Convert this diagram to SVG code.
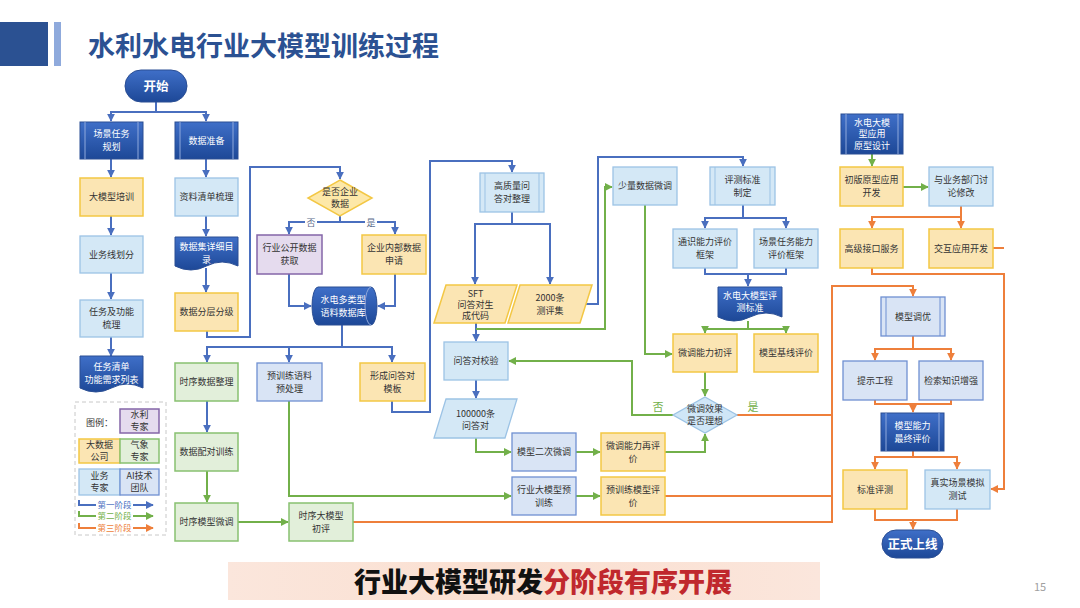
<svg xmlns="http://www.w3.org/2000/svg" width="1080" height="608" viewBox="0 0 1080 608">
<defs>
<linearGradient id="gdb" x1="0" y1="0" x2="0" y2="1"><stop offset="0" stop-color="#3f6fc8"/><stop offset="1" stop-color="#1d4897"/></linearGradient>
<linearGradient id="gban" x1="0" y1="0" x2="1" y2="0"><stop offset="0" stop-color="#fbe6dc"/><stop offset="0.5" stop-color="#fadfd0"/><stop offset="1" stop-color="#fbe6dc"/></linearGradient>
<marker id="mb" viewBox="0 0 10 10" refX="9" refY="5" markerWidth="8" markerHeight="8" markerUnits="userSpaceOnUse" orient="auto"><path d="M0,0 L10,5 L0,10 z" fill="#4a6fbf"/></marker>
<marker id="mg" viewBox="0 0 10 10" refX="9" refY="5" markerWidth="8" markerHeight="8" markerUnits="userSpaceOnUse" orient="auto"><path d="M0,0 L10,5 L0,10 z" fill="#72b04a"/></marker>
<marker id="mo" viewBox="0 0 10 10" refX="9" refY="5" markerWidth="8" markerHeight="8" markerUnits="userSpaceOnUse" orient="auto"><path d="M0,0 L10,5 L0,10 z" fill="#ee7f3b"/></marker>
<style>
text{font-family:"Noto Sans CJK SC","Liberation Sans",sans-serif;}
.t{font-size:9px;fill:#333;text-anchor:middle;}
.tw{font-size:9px;fill:#fff;text-anchor:middle;}
.db{fill:url(#gdb);stroke:#2a4e94;stroke-width:1;}
.dbl{stroke:#8fa9dc;stroke-width:1;}
.lb{fill:#d4e8f6;stroke:#9cc3e5;stroke-width:1.3;}
.lbl{stroke:#9cc3e5;stroke-width:1;}
.ab{fill:#d9e4f5;stroke:#6f90d2;stroke-width:1.3;}
.ye{fill:#fbe5b3;stroke:#f3c744;stroke-width:1.5;}
.gr{fill:#e2efda;stroke:#88c170;stroke-width:1.5;}
.pu{fill:#e5dbee;stroke:#8466a8;stroke-width:1.5;}
.cb{fill:none;stroke:#4a6fbf;stroke-width:2;marker-end:url(#mb);}
.cg{fill:none;stroke:#72b04a;stroke-width:2;marker-end:url(#mg);}
.co{fill:none;stroke:#ee7f3b;stroke-width:2;marker-end:url(#mo);}
.nb{fill:none;stroke:#4a6fbf;stroke-width:2;}
.ng{fill:none;stroke:#72b04a;stroke-width:2;}
.no{fill:none;stroke:#ee7f3b;stroke-width:2;}
</style>
</defs>
<rect width="1080" height="608" fill="#fff"/>
<!-- title -->
<g id="title">
<rect x="0" y="22" width="48" height="44" fill="#2b5192"/>
<rect x="54" y="22" width="7" height="44" fill="#8faadc"/>
<text x="88" y="56" style="font-size:27px;font-weight:700;fill:#2b5192">水利水电行业大模型训练过程</text>
</g>
<!-- connectors -->
<g id="connectors">
<!-- stage 1 blue -->
<path class="cb" d="M156,102 V112 H111 V121"/>
<path class="cb" d="M156,112 H206 V121"/>
<path class="cb" d="M111,159 V177"/>
<path class="cb" d="M111,216 V235"/>
<path class="cb" d="M111,273 V299"/>
<path class="cb" d="M111,337 V356"/>
<path class="cb" d="M206,159 V177"/>
<path class="cb" d="M206,216 V236"/>
<path class="cb" d="M206,268 V292"/>
<path class="cb" d="M207,331 V337 H250 V167 H340 V179"/>
<path class="cb" d="M340,216 V222 H289 V234"/>
<path class="cb" d="M340,222 H395 V234"/>
<path class="cb" d="M289,274 V306 H311"/>
<path class="cb" d="M395,274 V306 H378"/>
<path class="cb" d="M342,325 V347 H207 V362"/>
<path class="cb" d="M342,347 H392 V362"/>
<path class="cb" d="M289,347 V362"/>
<path class="cb" d="M207,401 V432"/>
<path class="cb" d="M392,401 V412 H430 V161 H512 V172"/>
<path class="cb" d="M512,212 V224 H475 V284"/>
<path class="cb" d="M512,224 H550 V284"/>
<path class="cb" d="M586,304 H598 V157 H743 V166"/>
<path class="cb" d="M476,323 V341"/>
<path class="cb" d="M476,380 V398"/>
<path class="cb" d="M743,205 V218 H705 V228"/>
<path class="cb" d="M743,218 H786 V228"/>
<path class="nb" d="M705,268 V274 H786 V268"/>
<path class="cb" d="M748,274 V286"/>
<!-- stage 2 green -->
<path class="cg" d="M207,471 V502"/>
<path class="cg" d="M238,522 H288"/>
<path class="cg" d="M289,401 V496 H511"/>
<path class="cg" d="M476,329 H605 V187 H612"/>
<path class="cg" d="M476,438 V452 H511"/>
<path class="cg" d="M576,452 H600"/>
<path class="cg" d="M665,452 H705 V434"/>
<path class="cg" d="M576,496 H600"/>
<path class="cg" d="M645,205 V354 H672"/>
<path class="cg" d="M748,321 V329 H705 V333"/>
<path class="cg" d="M748,329 H786 V333"/>
<path class="cg" d="M705,372 V396"/>
<path class="cg" d="M673,415 H632 V361 H509"/>
<path class="cg" d="M872,154 V166"/>
<path class="cg" d="M903,187 H928"/>
<!-- stage 3 orange -->
<path class="no" d="M737,415 H832"/>
<path class="no" d="M665,496 H832"/>
<path class="co" d="M353,522 H832 V286 H913 V296"/>
<path class="co" d="M961,206 V217 H872 V228"/>
<path class="co" d="M961,217 V228"/>
<path class="co" d="M872,268 V274 H1004 V489 H991"/>
<path class="no" d="M993,248 H1004"/>
<path class="co" d="M913,336 V349 H875 V360"/>
<path class="co" d="M913,349 H951 V360"/>
<path class="no" d="M875,400 V404 H951 V400"/>
<path class="co" d="M913,404 V412"/>
<path class="co" d="M913,451 V457 H875 V469"/>
<path class="co" d="M913,457 H957 V469"/>
<path class="no" d="M875,509 V520 H957 V509"/>
<path class="co" d="M913,520 V529"/>
<!-- labels -->
<rect x="305" y="216" width="12" height="12" fill="#fff"/>
<text x="311" y="226" style="font-size:9px;fill:#5a6a8a;text-anchor:middle">否</text>
<rect x="365" y="216" width="12" height="12" fill="#fff"/>
<text x="371" y="226" style="font-size:9px;fill:#5a6a8a;text-anchor:middle">是</text>
<text x="658" y="411" style="font-size:11px;fill:#72b04a;text-anchor:middle">否</text>
<text x="753" y="411" style="font-size:11px;fill:#72b04a;text-anchor:middle">是</text>
</g>
<!-- nodes -->
<g id="n-start"><rect x="125" y="70" width="62" height="32" rx="16" class="db"/><text x="156" y="90.5" style="font-size:12.5px;font-weight:700;fill:#fff;text-anchor:middle">开始</text></g>
<g id="n-cjrw"><rect x="80" y="122" width="63" height="37" class="db"/><path class="dbl" d="M85,122 V159 M138,122 V159"/><text class="tw" x="111.5" y="137">场景任务</text><text class="tw" x="111.5" y="150">规划</text></g>
<g id="n-sjzb"><rect x="175" y="122" width="63" height="37" class="db"/><path class="dbl" d="M180,122 V159 M233,122 V159"/><text class="tw" x="206.5" y="143.7">数据准备</text></g>
<g id="n-dmxpx"><rect x="80" y="178" width="63" height="38" class="ye"/><text class="t" x="111.5" y="200.2">大模型培训</text></g>
<g id="n-zlqd"><rect x="175" y="178" width="63" height="38" class="lb"/><text class="t" x="206.5" y="200.2">资料清单梳理</text></g>
<g id="n-ywxhf"><rect x="80" y="236" width="63" height="37" class="lb"/><text class="t" x="111.5" y="257.7">业务线划分</text></g>
<g id="n-sjjxx"><path class="db" d="M175,237 H238 V266 Q222,258 206.5,266 T175,266 Z"/><text class="tw" x="206.5" y="250">数据集详细目</text><text class="tw" x="206.5" y="263">录</text></g>
<g id="n-rwgn"><rect x="80" y="300" width="63" height="37" class="lb"/><text class="t" x="111.5" y="315.2">任务及功能</text><text class="t" x="111.5" y="328.2">梳理</text></g>
<g id="n-sjfc"><rect x="175" y="293" width="63" height="38" class="ye"/><text class="t" x="206.5" y="315.2">数据分层分级</text></g>
<g id="n-rwqd"><path class="db" d="M80,356 H143 V388 Q127,380 111.5,388 T80,388 Z"/><text class="tw" x="111.5" y="370">任务清单</text><text class="tw" x="111.5" y="383">功能需求列表</text></g>
<g id="legend">
<rect x="75" y="402" width="91" height="133" fill="#fff" stroke="#c8c8c8" stroke-width="1" stroke-dasharray="4,3"/>
<text x="86" y="426" style="font-size:9px;fill:#333">图例：</text>
<rect x="120" y="409" width="39" height="24" class="pu"/><text class="t" x="139.5" y="418">水利</text><text class="t" x="139.5" y="430">专家</text>
<rect x="79" y="439" width="41" height="24" class="ye"/><text class="t" x="99.5" y="448">大数据</text><text class="t" x="99.5" y="460">公司</text>
<rect x="120" y="439" width="39" height="24" class="gr"/><text class="t" x="139.5" y="448">气象</text><text class="t" x="139.5" y="460">专家</text>
<rect x="79" y="469" width="41" height="26" class="lb"/><text class="t" x="99.5" y="479">业务</text><text class="t" x="99.5" y="491">专家</text>
<rect x="120" y="469" width="39" height="26" class="ab"/><text class="t" x="139.5" y="479">AI技术</text><text class="t" x="139.5" y="491">团队</text>
<path class="nb" d="M79,500 V505 H96"/><text x="114.5" y="508" style="font-size:8.5px;fill:#4a6fbf;text-anchor:middle">第一阶段</text><path class="cb" d="M133,505 H153"/>
<path class="ng" d="M79,511 V516 H96"/><text x="114.5" y="519" style="font-size:8.5px;fill:#72b04a;text-anchor:middle">第二阶段</text><path class="cg" d="M133,516 H153"/>
<path class="no" d="M79,523 V528 H96"/><text x="114.5" y="531" style="font-size:8.5px;fill:#ee7f3b;text-anchor:middle">第三阶段</text><path class="co" d="M133,528 H153"/>
</g>
<g id="n-sxsjzl"><rect x="175" y="363" width="63" height="38" class="gr"/><text class="t" x="206.5" y="385.2">时序数据整理</text></g>
<g id="n-sjpd"><rect x="175" y="433" width="63" height="38" class="gr"/><text class="t" x="206.5" y="455.2">数据配对训练</text></g>
<g id="n-sxmxwt"><rect x="175" y="503" width="63" height="38" class="gr"/><text class="t" x="206.5" y="525.2">时序模型微调</text></g>
<g id="n-sfqy"><path d="M340,180 L372,198 L340,216 L308,198 Z" fill="#fde8a8" stroke="#f3c744" stroke-width="1.5"/><text class="t" x="340" y="195">是否企业</text><text class="t" x="340" y="207">数据</text></g>
<g id="n-hygk"><rect x="257" y="235" width="65" height="39" class="pu"/><text class="t" x="289.5" y="251.2">行业公开数据</text><text class="t" x="289.5" y="264.2">获取</text></g>
<g id="n-qynb"><rect x="362" y="235" width="64" height="39" class="ye"/><text class="t" x="394" y="251.2">企业内部数据</text><text class="t" x="394" y="264.2">申请</text></g>
<g id="n-yljk"><path class="db" d="M318,287 H371 A6,19 0 0 1 371,325 H318 A6,19 0 0 1 318,287 Z"/><path d="M371,287 A6,19 0 0 0 371,325" fill="none" stroke="#8fa9dc" stroke-width="1"/><text class="tw" x="343" y="302.7">水电多类型</text><text class="tw" x="343" y="315.7">语料数据库</text></g>
<g id="n-yxlyl"><rect x="257" y="363" width="65" height="38" class="ab"/><text class="t" x="289.5" y="378.7">预训练语料</text><text class="t" x="289.5" y="391.7">预处理</text></g>
<g id="n-xcwd"><rect x="360" y="363" width="65" height="38" class="ye"/><text class="t" x="392.5" y="378.7">形成问答对</text><text class="t" x="392.5" y="391.7">模板</text></g>
<g id="n-sxdmx"><rect x="289" y="503" width="64" height="38" class="gr"/><text class="t" x="321" y="518.7">时序大模型</text><text class="t" x="321" y="531.7">初评</text></g>
<g id="n-gzl"><rect x="480" y="173" width="64" height="39" class="lb"/><path class="lbl" d="M485,173 V212 M539,173 V212"/><text class="t" x="512" y="189.2">高质量问</text><text class="t" x="512" y="202.2">答对整理</text></g>
<g id="n-sft"><path d="M446,285 H517 L505,323 H434 Z" class="ye"/><text class="t" x="475.5" y="296.5">SFT</text><text class="t" x="475.5" y="307.5">问答对生</text><text class="t" x="475.5" y="318.5">成代码</text></g>
<g id="n-2000"><path d="M520,285 H592 L580,323 H508 Z" class="ye"/><text class="t" x="550" y="301">2000条</text><text class="t" x="550" y="314">测评集</text></g>
<g id="n-wdjy"><rect x="444" y="342" width="64" height="38" class="lb"/><text class="t" x="476" y="364.2">问答对校验</text></g>
<g id="n-100000"><path d="M446,399 H517 L505,438 H434 Z" class="lb"/><text class="t" x="475.5" y="416.5">100000条</text><text class="t" x="475.5" y="429">问答对</text></g>
<g id="n-ecwt"><rect x="512" y="433" width="64" height="38" class="ab"/><text class="t" x="544" y="455.2">模型二次微调</text></g>
<g id="n-zpj"><rect x="601" y="433" width="64" height="38" class="ye"/><text class="t" x="633" y="448.7">微调能力再评</text><text class="t" x="633" y="461.7">价</text></g>
<g id="n-hyyxl"><rect x="512" y="477" width="64" height="38" class="ab"/><text class="t" x="544" y="492.7">行业大模型预</text><text class="t" x="544" y="505.7">训练</text></g>
<g id="n-yxlpj"><rect x="601" y="477" width="64" height="38" class="ye"/><text class="t" x="633" y="492.7">预训练模型评</text><text class="t" x="633" y="505.7">价</text></g>
<g id="n-slwt"><rect x="613" y="167" width="64" height="38" class="lb"/><text class="t" x="645" y="189.2">少量数据微调</text></g>
<g id="n-pcbz"><rect x="710" y="167" width="65" height="38" class="lb"/><path class="lbl" d="M715,167 V205 M770,167 V205"/><text class="t" x="742.5" y="182.7">评测标准</text><text class="t" x="742.5" y="195.7">制定</text></g>
<g id="n-tsnl"><rect x="673" y="229" width="64" height="39" class="lb"/><text class="t" x="705" y="245.2">通识能力评价</text><text class="t" x="705" y="258.2">框架</text></g>
<g id="n-cjrwnl"><rect x="754" y="229" width="64" height="39" class="lb"/><text class="t" x="786" y="245.2">场景任务能力</text><text class="t" x="786" y="258.2">评价框架</text></g>
<g id="n-pcbzdoc"><path class="db" d="M718,287 H782 V317 Q766,309 750,317 T718,317 Z"/><text class="tw" x="750" y="299">水电大模型评</text><text class="tw" x="750" y="311">测标准</text></g>
<g id="n-wtcp"><rect x="673" y="334" width="64" height="38" class="ye"/><text class="t" x="705" y="356.2">微调能力初评</text></g>
<g id="n-jxpj"><rect x="754" y="334" width="64" height="38" class="ye"/><text class="t" x="786" y="356.2">模型基线评价</text></g>
<g id="n-wtxg"><path d="M705,397 L737,415 L705,433 L673,415 Z" fill="#cfe6f7" stroke="#9cc3e5" stroke-width="1.3"/><text class="t" x="705" y="412">微调效果</text><text class="t" x="705" y="424">是否理想</text></g>
<g id="n-yxsj"><rect x="841" y="114" width="62" height="40" class="db"/><path class="dbl" d="M846,114 V154 M898,114 V154"/><text class="tw" x="872" y="125.5">水电大模</text><text class="tw" x="872" y="137">型应用</text><text class="tw" x="872" y="148.5">原型设计</text></g>
<g id="n-cbyx"><rect x="840" y="167" width="63" height="39" class="ye"/><text class="t" x="871.5" y="183.2">初版原型应用</text><text class="t" x="871.5" y="196.2">开发</text></g>
<g id="n-ywbm"><rect x="929" y="167" width="64" height="39" class="lb"/><text class="t" x="961" y="183.2">与业务部门讨</text><text class="t" x="961" y="196.2">论修改</text></g>
<g id="n-gjjk"><rect x="840" y="229" width="63" height="39" class="ye"/><text class="t" x="871.5" y="251.7">高级接口服务</text></g>
<g id="n-jhyy"><rect x="929" y="229" width="64" height="39" class="ye"/><text class="t" x="961" y="251.7">交互应用开发</text></g>
<g id="n-mxty"><rect x="881" y="297" width="64" height="39" class="ab"/><path d="M886,297 V336 M940,297 V336" stroke="#6f90d2" stroke-width="1"/><text class="t" x="913" y="319.7">模型调优</text></g>
<g id="n-tsgc"><rect x="843" y="361" width="64" height="39" class="ab"/><text class="t" x="875" y="383.7">提示工程</text></g>
<g id="n-jszs"><rect x="919" y="361" width="64" height="39" class="ab"/><text class="t" x="951" y="383.7">检索知识增强</text></g>
<g id="n-zzpj"><rect x="881" y="413" width="63" height="38" class="db"/><path class="dbl" d="M886,413 V451 M939,413 V451"/><text class="tw" x="912.5" y="428.7">模型能力</text><text class="tw" x="912.5" y="441.7">最终评价</text></g>
<g id="n-bzpc"><rect x="843" y="470" width="64" height="39" class="ye"/><text class="t" x="875" y="492.7">标准评测</text></g>
<g id="n-zscj"><rect x="925" y="470" width="65" height="39" class="lb"/><text class="t" x="957.5" y="486.2">真实场景模拟</text><text class="t" x="957.5" y="499.2">测试</text></g>
<g id="n-zssx"><rect x="882" y="530" width="61" height="28" rx="14" class="db"/><text x="912.5" y="548.5" style="font-size:12.5px;font-weight:700;fill:#fff;text-anchor:middle">正式上线</text></g>
<!-- banner -->
<g id="banner">
<rect x="228" y="562" width="592" height="38" fill="url(#gban)"/>
<text x="543" y="592" style="font-size:27px;font-weight:900;text-anchor:middle"><tspan fill="#111">行业大模型研发</tspan><tspan fill="#c0282d">分阶段有序开展</tspan></text>
<text x="1040" y="591" style="font-size:11px;fill:#a0a0a0;text-anchor:middle">15</text>
</g>
</svg>
